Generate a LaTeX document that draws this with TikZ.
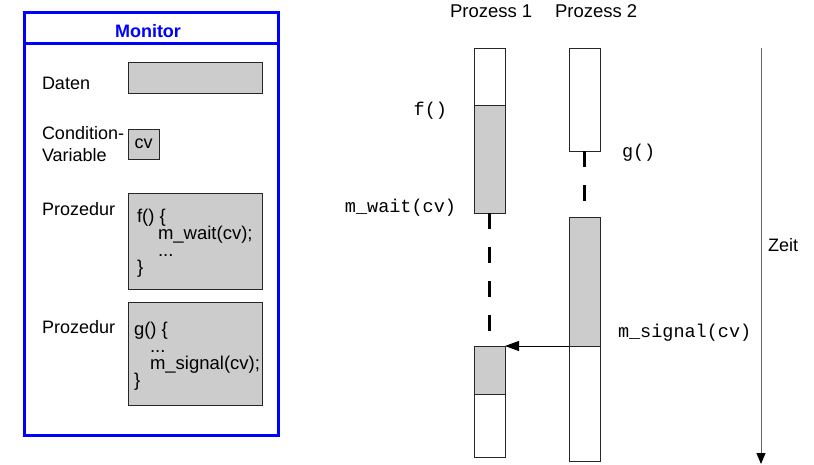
\documentclass[tikz,border=0pt]{standalone}
\usepackage{fontspec}
\setmainfont{Liberation Sans}
\newfontfamily\monofont{Liberation Mono}
\usetikzlibrary{arrows.meta}
\definecolor{boxgrey}{HTML}{CCCCCC}
\definecolor{monblue}{HTML}{0000FF}
\begin{document}
\begin{tikzpicture}[x=1pt,y=-1pt,
  every node/.style={inner sep=0pt,outer sep=0pt},
  txt/.style={font=\fontsize{18}{18}\selectfont, anchor=base west},
  btxt/.style={font=\fontsize{18.5}{18.5}\selectfont, anchor=base west},
  mono/.style={font=\fontsize{18.5}{18.5}\monofont},
  gbox/.style={draw=black!85, fill=boxgrey, line width=0.8pt},
  wbox/.style={draw=black!85, fill=white, line width=0.8pt},
  pcol/.style={minimum width=31pt},
  waitline/.style={line width=3pt, dash pattern=on 16pt off 18pt},
]
\useasboundingbox (0,0) rectangle (814,464);

% Monitor
\node[draw=monblue, line width=3pt, minimum width=254pt, minimum height=423pt] (monitor) at (151,223.5) {};
\draw[monblue, line width=3pt] ([yshift=-31pt]monitor.north west) -- ([yshift=-31pt]monitor.north east);
\node[font=\bfseries\fontsize{18}{18}\selectfont, text=monblue, anchor=base] (title) at (148,37.5) {Monitor};

\node[txt] (daten) at (42,89.5) {Daten};
\node[gbox, minimum width=134pt, minimum height=31pt] (datbox) at (195,77.5) {};

\node[txt] (cond1) at (42,139) {Condition-};
\node[txt] (cond2) at (42,161) {Variable};
\node[gbox, minimum width=31pt, minimum height=30pt, font=\fontsize{18}{18}\selectfont] (cvbox) at (143.5,144) {cv};

\node[txt] (proz1) at (42,215) {Prozedur};
\node[gbox, minimum width=134pt, minimum height=96pt] (fbox) at (195,241) {};
\node[btxt] (f1) at (137,222) {f() \{};
\node[btxt] (f2) at (158,239) {m\_wait(cv);};
\node[btxt] (f3) at (158,256) {...};
\node[btxt] (f4) at (137,273) {\}};

\node[txt] (proz2) at (42,333) {Prozedur};
\node[gbox, minimum width=134pt, minimum height=103pt] (gbox) at (195,353.5) {};
\node[btxt] (g1) at (134,335) {g() \{};
\node[btxt] (g2) at (150,352) {...};
\node[btxt] (g3) at (150,369) {m\_signal(cv);};
\node[btxt] (g4) at (134,386) {\}};

% Process headers
\node[txt, font=\fontsize{18.5}{18.5}\selectfont] (ph1) at (450,17) {Prozess 1};
\node[txt, font=\fontsize{18.5}{18.5}\selectfont] (ph2) at (555,17) {Prozess 2};

% Process 1
\node[wbox, pcol, minimum height=57pt] (p1a) at (489.5,76.5) {};
\node[gbox, pcol, minimum height=108pt] (p1b) at (489.5,159) {};
\node[gbox, pcol, minimum height=48pt] (p1c) at (489.5,370) {};
\node[wbox, pcol, minimum height=63pt] (p1d) at (489.5,425.5) {};

% Process 2
\node[wbox, pcol, minimum height=103pt] (p2a) at (584.5,99.5) {};
\node[gbox, pcol, minimum height=129pt] (p2b) at (584.5,281.5) {};
\node[wbox, pcol, minimum height=115pt] (p2c) at (584.5,403.5) {};

% waiting lines
\draw[waitline] (p1b.south) -- (p1c.north);
\draw[waitline] (p2a.south) -- (p2b.north);

% signal arrow
\draw[line width=0.8pt, -{Triangle[length=14pt,width=10pt]}] (p2b.south west) -- (p1c.north east);

% labels
\node[mono, anchor=base east] (lf) at (447,115) {f()};
\node[mono, anchor=base east] (lw) at (456,212) {m\_wait(cv)};
\node[mono, anchor=base west] (lg) at (622,157) {g()};
\node[mono, anchor=base west] (ls) at (618,337) {m\_signal(cv)};

% time axis
\coordinate (t0) at (761,48);
\coordinate (t1) at (761,464);
\draw[black!60, line width=1pt, -{Triangle[length=11pt,width=9pt,color=black]}] (t0) -- (t1);
\node[txt] (zeit) at (768,251) {Zeit};
\end{tikzpicture}
\end{document}
